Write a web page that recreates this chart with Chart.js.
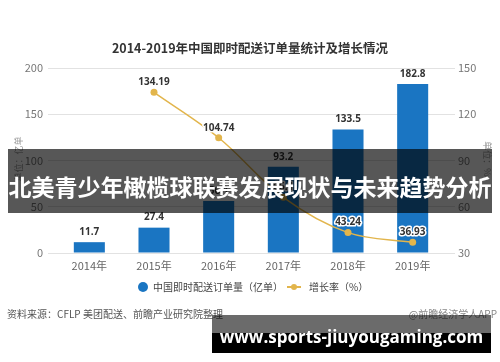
<!DOCTYPE html>
<html>
<head>
<meta charset="utf-8">
<script src="https://cdn.jsdelivr.net/npm/chart.js@4.4.1/dist/chart.umd.min.js"></script>
<style>
  html, body { margin: 0; padding: 0; background: #fff; }
  body { width: 500px; height: 362px; position: relative; overflow: hidden;
         font-family: "Noto Sans CJK SC", "Open Sans", sans-serif; }
  #wrap { position: absolute; left: 0; top: 0; width: 500px; height: 362px; }
  .txt { position: absolute; white-space: nowrap; }
  #title { left: 0; width: 500px; top: 39px; text-align: center; font-size: 12.5px; font-weight: bold; color: #333; line-height: 18px; }
  #ylab { left: -6px; top: 153px; width: 50px; text-align: center; font-size: 9px; color: #999; transform: rotate(-90deg); line-height: 12px; }
  #y1lab { left: 462px; top: 153px; width: 50px; text-align: center; font-size: 9px; color: #999; transform: rotate(90deg); line-height: 12px; }
  #legend { top: 279px; left: 0; width: 500px; height: 16px; font-size: 10px; color: #444; }
  .dot { position: absolute; width: 10px; height: 10px; border-radius: 50%; }
  #source { left: 7px; top: 306px; font-size: 10px; color: #555; line-height: 16px; }
  #app { right: 3px; top: 306px; font-size: 10px; color: #888; line-height: 16px; }
  #band { left: 8px; top: 149px; width: 484px; height: 64px; background: rgba(0,0,0,0.66);
          color: #fff; font-weight: bold; font-size: 23px; text-align: center; line-height: 74px; }
  #site { left: 212px; top: 315px; width: 279px; height: 38px;
          background: linear-gradient(rgba(0,0,0,0.58) 0, rgba(0,0,0,0.58) 18px, #000 18px, #000 38px);
          color: #fff; font-family: "Open Sans", sans-serif; font-weight: bold; font-size: 17px;
          text-align: center; line-height: 44px; }
</style>
</head>
<body>
<div id="wrap"><canvas id="chart"></canvas></div>

<div class="txt" id="title">2014-2019年中国即时配送订单量统计及增长情况</div>
<div class="txt" id="ylab">单位：亿单</div>
<div class="txt" id="y1lab">单位：%</div>

<div class="txt" id="legend">
  <span class="dot" style="left:138px; top:3px; background:#1a75c2;"></span>
  <span class="txt" style="left:153px; top:0; line-height:16px;">中国即时配送订单量（亿单）</span>
  <span class="txt" style="left:287px; top:7px; width:14px; height:2px; background:#e2b54c;"></span>
  <span class="dot" style="left:291px; top:5px; width:6px; height:6px; background:#e2b54c;"></span>
  <span class="txt" style="left:309px; top:0; line-height:16px;">增长率（%）</span>
</div>

<div class="txt" id="source">资料来源：CFLP 美团配送、前瞻产业研究院整理</div>
<div class="txt" id="app">@前瞻经济学人APP</div>

<div class="txt" id="band">北美青少年橄榄球联赛发展现状与未来趋势分析</div>
<div class="txt" id="site">www.sports-jiuyougaming.com</div>

<script>
// ── Data ─────────────────────────────────────────────
const years  = ['2014年', '2015年', '2016年', '2017年', '2018年', '2019年'];
const orders = [11.7, 27.4, 56.1, 93.2, 133.5, 182.8];      // 亿单
const growth = [null, 134.19, 104.74, 66.1, 43.24, 36.93];  // %

const ordersAxis = { min: 0,  max: 200, step: 50 };
const growthAxis = { min: 30, max: 150, step: 30 };

Chart.defaults.font.family = '"Noto Sans CJK SC", "Open Sans", sans-serif';

// ── Value labels ─────────────────────────────────────
const valueLabels = {
  id: 'valueLabels',
  afterDatasetsDraw(chart) {
    const ctx = chart.ctx;
    chart.data.datasets.forEach((ds, i) => {
      const meta = chart.getDatasetMeta(i);
      meta.data.forEach((el, j) => {
        const v = ds.data[j];
        if (v == null) return;
        ctx.save();
        ctx.font = 'bold 10px "Open Sans", sans-serif';
        ctx.textAlign = 'center';
        ctx.textBaseline = 'middle';
        if (ds.type === 'line') {
          ctx.strokeStyle = '#fff';
          ctx.lineWidth = 3;
          ctx.lineJoin = 'round';
          ctx.strokeText(String(v), el.x, el.y - 10);
        }
        ctx.fillStyle = '#333';
        ctx.fillText(String(v), el.x, el.y - 10);
        ctx.restore();
      });
    });
  }
};

// ── Chart ────────────────────────────────────────────
new Chart(document.getElementById('chart'), {
  data: {
    labels: years,
    datasets: [
      {
        type: 'line',
        label: '增长率（%）',
        data: growth,
        yAxisID: 'y1',
        borderColor: '#e2b54c',
        backgroundColor: '#e2b54c',
        borderWidth: 1.5,
        pointRadius: 3.5,
        pointBorderWidth: 0,
        tension: 0.35,
        order: 0
      },
      {
        type: 'bar',
        label: '中国即时配送订单量（亿单）',
        data: orders,
        yAxisID: 'y',
        backgroundColor: '#1a75c2',
        categoryPercentage: 1,
        barPercentage: 0.48,
        order: 1
      }
    ]
  },
  options: {
    animation: false, responsive: true, maintainAspectRatio: false,
    layout: { padding: { top: 68, bottom: 79, left: 0, right: 0 } },
    plugins: { legend: { display: false }, title: { display: false }, tooltip: { enabled: false } },
    scales: {
      x: {
        offset: true,
        grid: { display: false, drawTicks: false },
        border: { display: false },
        ticks: { color: '#666', font: { size: 11 }, padding: 6 },
        afterFit: s => { s.height = 30; }
      },
      y: {
        position: 'left',
        min: ordersAxis.min, max: ordersAxis.max,
        ticks: { stepSize: ordersAxis.step, color: '#777', font: { size: 11 }, padding: 5 },
        grid: { color: '#e2e2e2', tickLength: 9 },
        border: { display: false },
        afterFit: s => { s.width = 57; }
      },
      y1: {
        position: 'right',
        min: growthAxis.min, max: growthAxis.max,
        ticks: { stepSize: growthAxis.step, color: '#777', font: { size: 11 }, padding: 3 },
        grid: { color: '#e2e2e2', tickLength: 10, drawOnChartArea: false },
        border: { display: false },
        afterFit: s => { s.width = 55; }
      }
    }
  },
  plugins: [valueLabels]
});
</script>
</body>
</html>
